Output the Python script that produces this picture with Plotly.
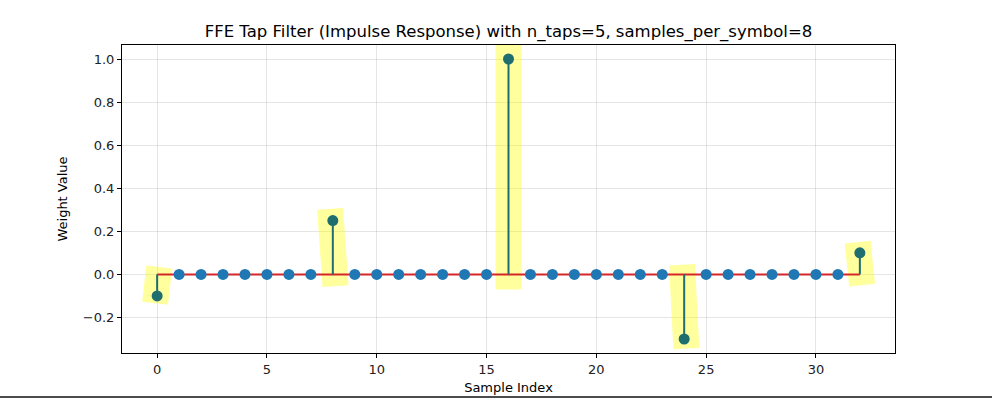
import numpy as np
import plotly.graph_objects as go

# ---- data ----
n_taps = 5
samples_per_symbol = 8
tap_weights = [-0.1, 0.25, 1.0, -0.3, 0.1]
n_samples = (n_taps - 1) * samples_per_symbol + 1
sample_index = list(range(n_samples))
impulse = [0.0] * n_samples
for k, w in enumerate(tap_weights):
    impulse[k * samples_per_symbol] = w

# highlight boxes: tilt (deg) and vertical padding per tap
hl_tilt_deg = [-6.5, 4.0, 0.0, 3.0, 6.0]
hl_pad = [0.035, 0.055, 0.07, 0.045, 0.05]
hl_halfwidth_px = 13.0

TEAL = "#1f6e6f"
BLUE = "#1f77b4"
RED = "#d62728"

W, H = 992, 398
ML, MR, MT, MB = 122, 97, 45, 45
xr = [-1.6, 33.6]
yr = [-0.365, 1.065]
pw, ph = W - ML - MR, H - MT - MB
sx = pw / (xr[1] - xr[0])
sy = ph / (yr[1] - yr[0])

fig = go.Figure()

# yellow highlight polygons (rotated rectangles)
for k, w in enumerate(tap_weights):
    xc = k * samples_per_symbol
    y0, y1 = min(0, w) - hl_pad[k], max(0, w) + hl_pad[k]
    yc = (y0 + y1) / 2
    hh = (y1 - y0) / 2 * sy
    hw = hl_halfwidth_px
    a = np.deg2rad(hl_tilt_deg[k])
    corners = [(-hw, -hh), (hw, -hh), (hw, hh), (-hw, hh), (-hw, -hh)]
    px, py = [], []
    for cx, cy in corners:
        rx = cx * np.cos(a) - cy * np.sin(a)
        ry = cx * np.sin(a) + cy * np.cos(a)
        px.append(xc + rx / sx)
        py.append(yc + ry / sy)
    fig.add_trace(go.Scatter(x=px, y=py, mode="lines", fill="toself",
                             fillcolor="rgba(255,255,0,0.38)",
                             line=dict(width=0), hoverinfo="skip",
                             showlegend=False))

# baseline
fig.add_trace(go.Scatter(x=[sample_index[0], sample_index[-1]], y=[0, 0],
                         mode="lines", line=dict(color=RED, width=2),
                         showlegend=False))

# stems
sx_l, sy_l = [], []
for i, v in zip(sample_index, impulse):
    if v != 0:
        sx_l += [i, i, None]
        sy_l += [0, v, None]
fig.add_trace(go.Scatter(x=sx_l, y=sy_l, mode="lines",
                         line=dict(color=TEAL, width=2), showlegend=False))

# markers
colors = [TEAL if v != 0 else BLUE for v in impulse]
fig.add_trace(go.Scatter(x=sample_index, y=impulse, mode="markers",
                         marker=dict(color=colors, size=11, line=dict(width=0)),
                         showlegend=False))

fig.add_shape(type="line", xref="paper", yref="paper",
              x0=-ML / pw, x1=(W - ML) / pw,
              y0=-(H - 1.0 - (H - MB)) / ph, y1=-(H - 1.0 - (H - MB)) / ph,
              line=dict(color="#111", width=1.5))

axis_common = dict(showline=True, linecolor="black", linewidth=1, mirror=True,
                   ticks="outside", ticklen=4, tickcolor="black",
                   showgrid=True, gridcolor="rgba(0,0,0,0.1)", gridwidth=1,
                   zeroline=False, automargin=False,
                   tickfont=dict(size=13, color="#222"))

fig.update_layout(
    width=W, height=H,
    margin=dict(l=ML, r=MR, t=MT, b=MB, autoexpand=False),
    paper_bgcolor="white", plot_bgcolor="white",
    font=dict(family="DejaVu Sans", color="black"),
    title=dict(text=f"FFE Tap Filter (Impulse Response) with n_taps={n_taps}, samples_per_symbol={samples_per_symbol}",
               x=(ML + pw / 2) / W, xanchor="center", y=1 - 31 / H, yanchor="middle",
               font=dict(size=16.5)),
    xaxis=dict(range=xr, tickvals=[0, 5, 10, 15, 20, 25, 30],
               title=dict(text="Sample Index", font=dict(size=13), standoff=7),
               **axis_common),
    yaxis=dict(range=yr, tickvals=[-0.2, 0, 0.2, 0.4, 0.6, 0.8, 1.0],
               ticktext=["\u22120.2", "0.0", "0.2", "0.4", "0.6", "0.8", "1.0"],
               title=dict(text="Weight Value", font=dict(size=13), standoff=12),
               **axis_common),
)

fig.write_html("out.html", config={"displayModeBar": False},
               post_script="document.body.style.margin='0';document.body.style.overflow='hidden';")
